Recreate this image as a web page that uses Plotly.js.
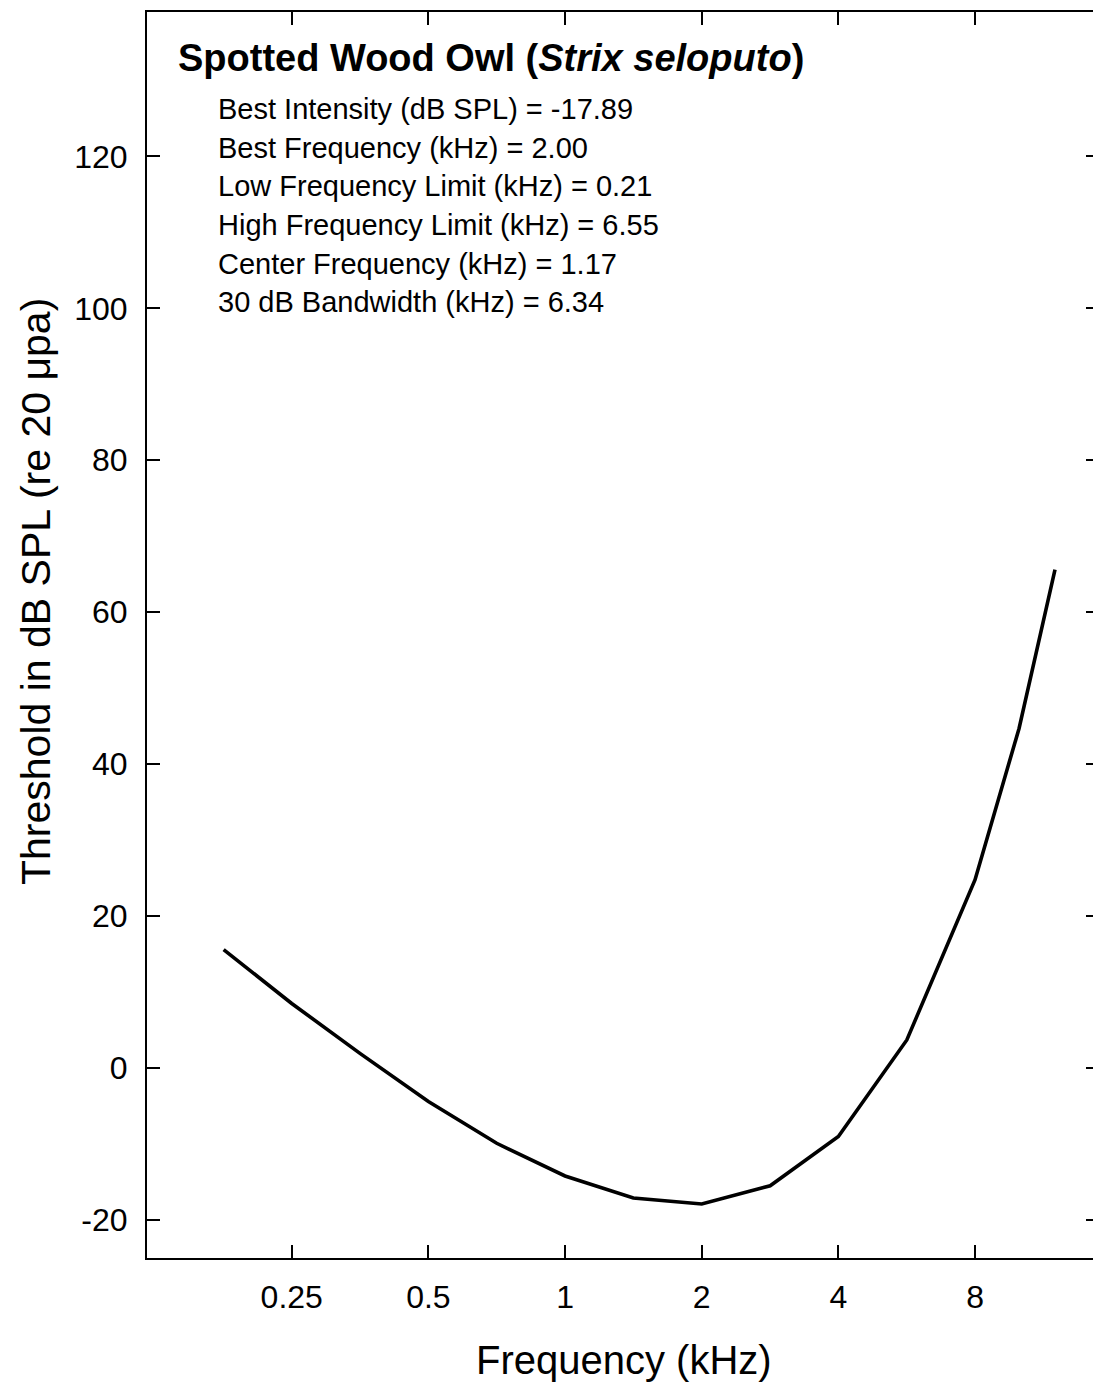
<!DOCTYPE html>
<html>
<head>
<meta charset="utf-8">
<script src="https://cdn.plot.ly/plotly-3.0.1.min.js"></script>
<style>
  html, body { margin: 0; padding: 0; background: #fff; overflow: hidden; }
  #chart { width: 1100px; height: 1385px; }
</style>
</head>
<body>
<div id="chart"></div>
<script>
// ---- Data ----
const frequencyKHz = [0.177, 0.25, 0.354, 0.5, 0.707, 1, 1.414, 2, 2.83, 4, 5.66, 8, 10, 12];
const thresholdDB  = [15.6, 8.5, 1.9, -4.4, -9.9, -14.2, -17.1, -17.89, -15.5, -9.0, 3.7, 24.8, 44.7, 65.6];

const xTickVals = [0.25, 0.5, 1, 2, 4, 8];
const xTickText = ["0.25", "0.5", "1", "2", "4", "8"];
const yTickVals = [-20, 0, 20, 40, 60, 80, 100, 120];
const yTickText = ["-20", "0", "20", "40", "60", "80", "100", "120"];

const chartTitle = "<b>Spotted Wood Owl (<i>Strix seloputo</i>)</b>";
const statLines = [
  "Best Intensity (dB SPL) = -17.89",
  "Best Frequency (kHz) = 2.00",
  "Low Frequency Limit (kHz) = 0.21",
  "High Frequency Limit (kHz) = 6.55",
  "Center Frequency (kHz) = 1.17",
  "30 dB Bandwidth (kHz) = 6.34"
];
const xAxisTitle = "Frequency (kHz)";
const yAxisTitle = "Threshold in dB SPL (re 20 μpa)";

// ---- Layout geometry (pixels) ----
const W = 1100, H = 1385;
const L = 147, R = 1, T = 12, B = 127;
const plotW = W - L - R, plotH = H - T - B;
const px = x => (x - L) / plotW;
const py = y => (H - B - y) / plotH;

const FONT = "Liberation Sans, Arial, Helvetica, sans-serif";

const annotations = [];
annotations.push({
  text: chartTitle, xref: "paper", yref: "paper",
  x: px(176), y: py(58), xanchor: "left", yanchor: "middle",
  showarrow: false, font: { family: FONT, size: 38, color: "#000" }
});
statLines.forEach((s, i) => {
  annotations.push({
    text: s, xref: "paper", yref: "paper",
    x: px(216), y: py(109 + i * 38.7), xanchor: "left", yanchor: "middle",
    showarrow: false, font: { family: FONT, size: 29, color: "#000" }
  });
});
annotations.push({
  text: xAxisTitle, xref: "paper", yref: "paper",
  x: px(624), y: py(1360), xanchor: "center", yanchor: "middle",
  showarrow: false, font: { family: FONT, size: 40, color: "#000" }
});
annotations.push({
  text: yAxisTitle, xref: "paper", yref: "paper", textangle: -90,
  x: px(36), y: py(592), xanchor: "center", yanchor: "middle",
  showarrow: false, font: { family: FONT, size: 41, color: "#000" }
});

const trace = {
  x: frequencyKHz, y: thresholdDB,
  type: "scatter", mode: "lines",
  line: { color: "#000", width: 3.6, shape: "linear" },
  hoverinfo: "x+y"
};

const layout = {
  width: W, height: H,
  margin: { l: L, r: R, t: T, b: B, pad: 0 },
  paper_bgcolor: "#fff", plot_bgcolor: "#fff",
  showlegend: false,
  font: { family: FONT, color: "#000" },
  xaxis: {
    type: "log",
    range: [Math.log10(0.12), Math.log10(15)],
    tickvals: xTickVals, ticktext: xTickText,
    ticks: "inside", ticklen: 13, tickwidth: 2, tickcolor: "#000",
    showline: true, linecolor: "#000", linewidth: 2, mirror: "ticks",
    showgrid: false, zeroline: false,
    tickfont: { family: FONT, size: 32, color: "#000" },
    ticklabelstandoff: 10
  },
  yaxis: {
    range: [-25, 139],
    tickvals: yTickVals, ticktext: yTickText,
    ticks: "inside", ticklen: 13, tickwidth: 2, tickcolor: "#000",
    showline: true, linecolor: "#000", linewidth: 2, mirror: "ticks",
    showgrid: false, zeroline: false,
    tickfont: { family: FONT, size: 32, color: "#000" },
    ticklabelstandoff: 11
  },
  annotations: annotations
};

Plotly.newPlot("chart", [trace], layout, { displayModeBar: false, staticPlot: true });
</script>
</body>
</html>
